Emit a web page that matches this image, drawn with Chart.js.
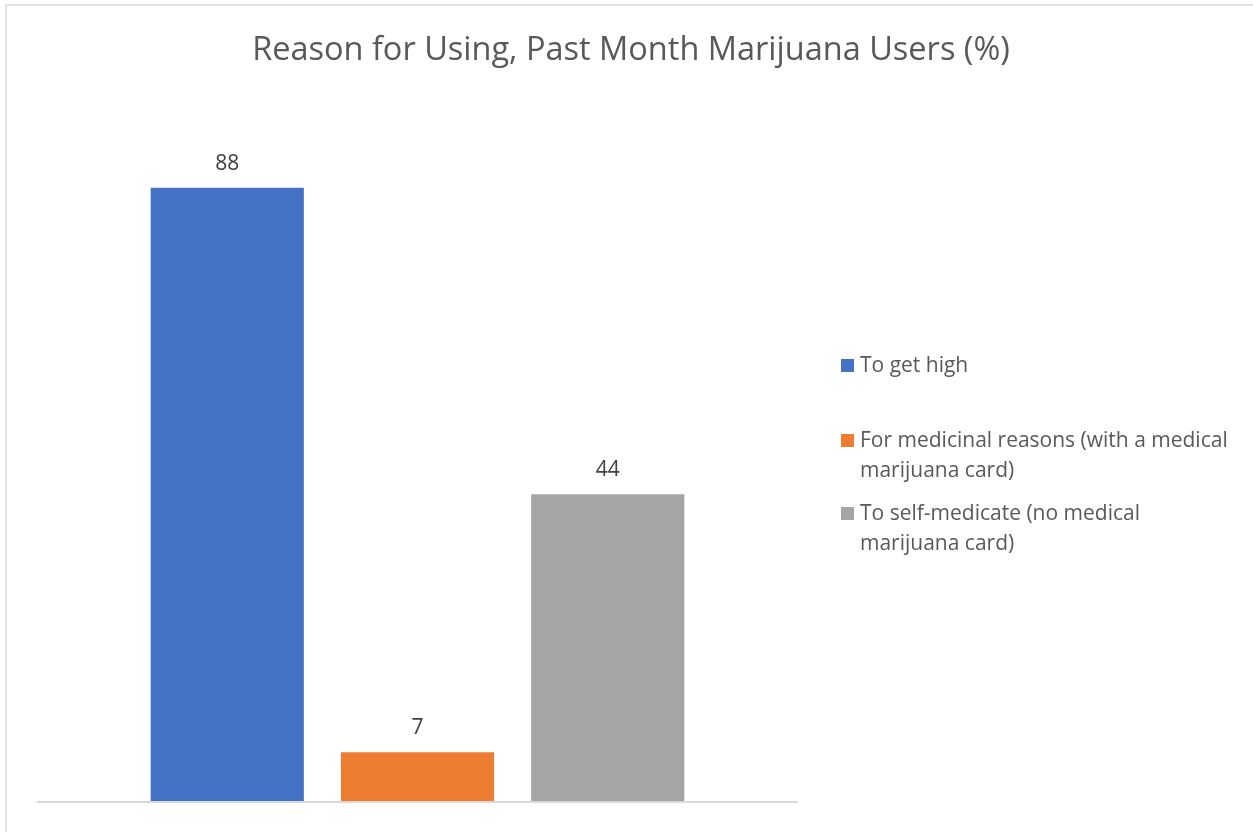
<!DOCTYPE html>
<html>
<head>
<meta charset="utf-8">
<script src="https://cdn.jsdelivr.net/npm/chart.js@4.4.0/dist/chart.umd.min.js"></script>
<style>
  html, body { margin: 0; padding: 0; background: #fff; }
  #wrap { width: 1253px; height: 832px; position: relative; }
</style>
</head>
<body>
<div id="wrap"><canvas id="reasonChart" width="1253" height="832"></canvas></div>
<script>
const chartTitle = "Reason for Using, Past Month Marijuana Users (%)";
const categories = [""];
const seriesNames = [
    "To get high",
    "For medicinal reasons (with a medical marijuana card)",
    "To self-medicate (no medical marijuana card)"
];
const seriesValues = [88, 7, 44];
const seriesColors = ["#4472c4", "#ed7d31", "#a5a5a5"];

const fontFamily = "'Open Sans', Lato, sans-serif";

// frame + title, drawn across the whole box
const framePlugin = {
    id: "frame",
    beforeDraw(chart) {
        const ctx = chart.ctx;
        ctx.save();
        ctx.fillStyle = "#fff";
        ctx.fillRect(0, 0, chart.width, chart.height);
        ctx.strokeStyle = "#d9d9d9";
        ctx.lineWidth = 1.5;
        ctx.strokeRect(6, 5, chart.width + 20, chart.height + 20);

        ctx.fillStyle = "#595959";
        ctx.font = "32.5px " + fontFamily;
        ctx.textAlign = "center";
        ctx.textBaseline = "middle";
        ctx.fillText(chartTitle, 631, 51);
        ctx.restore();
    }
};

// value labels above bars + baseline
const valueLabels = {
    id: "valueLabels",
    afterDatasetsDraw(chart) {
        const ctx = chart.ctx;
        const area = chart.chartArea;
        ctx.save();
        ctx.strokeStyle = "#d9d9d9";
        ctx.lineWidth = 2;
        ctx.beginPath();
        ctx.moveTo(area.left, area.bottom + 1);
        ctx.lineTo(area.right, area.bottom + 1);
        ctx.stroke();

        ctx.fillStyle = "#404040";
        ctx.font = "21px " + fontFamily;
        ctx.textAlign = "center";
        ctx.textBaseline = "middle";
        chart.data.datasets.forEach((ds, i) => {
            chart.getDatasetMeta(i).data.forEach((bar, j) => {
                ctx.fillText(String(ds.data[j]), bar.x, bar.y - 24);
            });
        });
        ctx.restore();
    }
};

// legend on the right with wrapped labels
const sideLegend = {
    id: "sideLegend",
    afterDraw(chart) {
        const ctx = chart.ctx;
        const x0 = 841, textX = 860, maxW = 378, lineH = 30;
        const itemY = [366, 441, 514];
        ctx.save();
        ctx.font = "21px " + fontFamily;
        ctx.textBaseline = "middle";
        chart.data.datasets.forEach((ds, i) => {
            const words = ds.label.split(" ");
            const lines = [];
            let cur = "";
            words.forEach(w => {
                const test = cur ? cur + " " + w : w;
                if (ctx.measureText(test).width > maxW && cur) {
                    lines.push(cur);
                    cur = w;
                } else {
                    cur = test;
                }
            });
            lines.push(cur);
            ctx.fillStyle = ds.backgroundColor;
            ctx.fillRect(x0, itemY[i] - 7, 13, 13);
            ctx.fillStyle = "#595959";
            lines.forEach((ln, k) => ctx.fillText(ln, textX, itemY[i] + k * lineH));
        });
        ctx.restore();
    }
};

const datasets = seriesNames.map((name, i) => ({
    label: name,
    data: [seriesValues[i]],
    backgroundColor: seriesColors[i],
    borderWidth: 0,
    barPercentage: 0.805,
    categoryPercentage: 0.75
}));

const ctx = document.getElementById("reasonChart").getContext("2d");
new Chart(ctx, {
    type: "bar",
    data: { labels: categories, datasets: datasets },
    plugins: [framePlugin, valueLabels, sideLegend],
    options: {
        responsive: false,
        animation: false,
        layout: { padding: { left: 37, right: 455, top: 104, bottom: 31 } },
        plugins: {
            legend: { display: false },
            tooltip: { enabled: false },
            title: { display: false }
        },
        scales: {
            x: { display: false },
            y: { display: false, min: 0, max: 100 }
        }
    }
});
</script>
</body>
</html>
